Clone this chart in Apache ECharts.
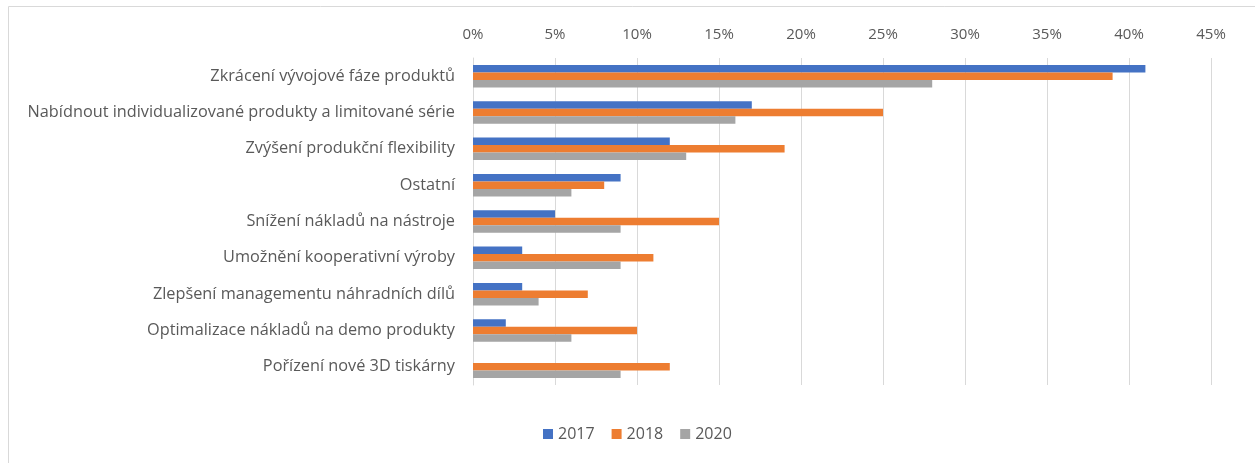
<!DOCTYPE html>
<html>
<head>
<meta charset="utf-8">
<script src="https://cdn.jsdelivr.net/npm/echarts@6/dist/echarts.min.js"></script>
<style>
  html, body { margin: 0; padding: 0; background: #fff; }
  #chart { width: 1255px; height: 463px; }
</style>
</head>
<body>
<div id="chart"></div>
<script>
// Motivations for adopting 3D printing, share of respondents per survey year
const categories = [
  'Zkrácení vývojové fáze produktů',
  'Nabídnout individualizované produkty a limitované série',
  'Zvýšení produkční flexibility',
  'Ostatní',
  'Snížení nákladů na nástroje',
  'Umožnění kooperativní výroby',
  'Zlepšení managementu náhradních dílů',
  'Optimalizace nákladů na demo produkty',
  'Pořízení nové 3D tiskárny'
];
const values2017 = [41, 17, 12, 9, 5, 3, 3, 2, 0];
const values2018 = [39, 25, 19, 8, 15, 11, 7, 10, 12];
const values2020 = [28, 16, 13, 6, 9, 9, 4, 6, 9];
const seriesNames = ['2017', '2018', '2020'];
const seriesColors = ['#4472C4', '#ED7D31', '#A5A5A5'];

const FONT = 'Open Sans';
const TEXT = '#595959';

const chart = echarts.init(document.getElementById('chart'), null, { renderer: 'canvas' });

const seriesData = [values2017, values2018, values2020];

chart.setOption({
  animation: false,
  textStyle: { fontFamily: FONT },
  graphic: [{
    type: 'rect',
    shape: { x: 8.5, y: 6.5, width: 1300, height: 500 },
    style: { fill: 'none', stroke: '#d9d9d9', lineWidth: 1 },
    silent: true
  }],
  legend: {
    data: seriesNames,
    top: 421,
    left: 538,
    itemWidth: 10,
    itemHeight: 10,
    itemGap: 17,
    icon: 'rect',
    textStyle: { color: TEXT, fontSize: 16, fontFamily: FONT, padding: [0, 0, 0, 0] }
  },
  grid: { left: 473, right: 44, top: 58, bottom: 78, containLabel: false },
  xAxis: {
    type: 'value',
    position: 'top',
    min: 0,
    max: 45,
    interval: 5,
    axisLine: { show: false },
    axisTick: { show: false },
    axisLabel: {
      color: TEXT, fontSize: 15, fontFamily: FONT, margin: 16,
      formatter: v => v + '%'
    },
    splitLine: { show: true, lineStyle: { color: '#d9d9d9', width: 1 } }
  },
  yAxis: {
    type: 'category',
    inverse: true,
    data: categories,
    axisLine: { show: true, lineStyle: { color: '#d9d9d9' } },
    axisTick: { show: false },
    axisLabel: { color: TEXT, fontSize: 16.3, fontFamily: FONT, margin: 18 }
  },
  series: seriesNames.map((name, i) => ({
    name,
    type: 'bar',
    data: seriesData[i],
    barGap: '0%',
    barCategoryGap: '38%',
    itemStyle: { color: seriesColors[i] }
  }))
});
</script>
</body>
</html>
